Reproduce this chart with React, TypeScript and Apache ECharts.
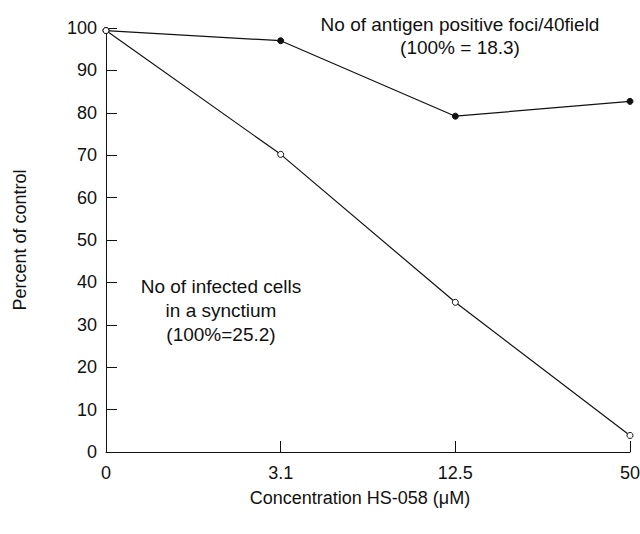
import React, { useEffect, useRef } from "react";
import * as echarts from "echarts";

const categories = ["0", "3.1", "12.5", "50"];
const antigenFoci = [99.4, 97.0, 79.2, 82.7];
const infectedCells = [99.4, 70.2, 35.3, 3.9];
const yTicks = { min: 0, max: 100, interval: 10 };

export default function App() {
  const ref = useRef<HTMLDivElement>(null);
  useEffect(() => {
    document.body.style.margin = "0";
    const chart = echarts.init(ref.current!, null, { renderer: "svg" });
    const font = "Liberation Sans, Arial, sans-serif";
    const fs = 18;
    chart.setOption({
      animation: false,
      backgroundColor: "#fff",
      grid: { left: 106, right: 10, top: 28, bottom: 82, containLabel: false, outerBoundsMode: "none" },
      xAxis: {
        type: "category",
        data: categories,
        boundaryGap: false,
        name: "Concentration HS-058 (\u03BCM)",
        nameLocation: "middle",
        nameGap: 37,
        nameTextStyle: { fontFamily: font, fontSize: fs, color: "#111", padding: [0, 16, 0, 0] },
        axisLine: { lineStyle: { color: "#111", width: 1 } },
        axisTick: { inside: true, length: 11, lineStyle: { color: "#111" }, alignWithLabel: true },
        axisLabel: { fontFamily: font, fontSize: fs, color: "#111", margin: 12, showMaxLabel: true },
        splitLine: { show: false },
      },
      yAxis: {
        type: "value",
        min: yTicks.min,
        max: yTicks.max,
        interval: yTicks.interval,
        name: "Percent of control",
        nameLocation: "middle",
        nameGap: 77,
        nameTextStyle: { fontFamily: font, fontSize: fs, color: "#111" },
        axisLine: { show: true, lineStyle: { color: "#111", width: 1 } },
        axisTick: { show: true, inside: true, length: 11, lineStyle: { color: "#111" } },
        axisLabel: { fontFamily: font, fontSize: fs, color: "#111", margin: 9 },
        splitLine: { show: false },
      },
      series: [
        {
          name: "No of antigen positive foci/40field",
          type: "line",
          data: antigenFoci,
          symbol: "circle",
          symbolSize: 6,
          lineStyle: { color: "#111", width: 1.2 },
          itemStyle: { color: "#111", borderColor: "#111", borderWidth: 1 },
          z: 2,
        },
        {
          name: "No of infected cells in a synctium",
          type: "line",
          data: infectedCells,
          symbol: "circle",
          symbolSize: 6,
          lineStyle: { color: "#111", width: 1.2 },
          itemStyle: { color: "#fff", borderColor: "#111", borderWidth: 1 },
          z: 3,
        },
      ],
      graphic: [
        {
          type: "text",
          x: 460,
          y: 13,
          style: {
            text: "No of antigen positive foci/40field\n(100% = 18.3)",
            fontFamily: font,
            fontSize: 19,
            lineHeight: 23,
            fill: "#111",
            align: "center",
            verticalAlign: "top",
          },
        },
        {
          type: "text",
          x: 221,
          y: 274,
          style: {
            text: "No of infected cells\nin a synctium\n(100%=25.2)",
            fontFamily: font,
            fontSize: 19,
            lineHeight: 24,
            fill: "#111",
            align: "center",
            verticalAlign: "top",
          },
        },
      ],
    });
    return () => chart.dispose();
  }, []);
  return <div ref={ref} style={{ width: 640, height: 534 }} />;
}
